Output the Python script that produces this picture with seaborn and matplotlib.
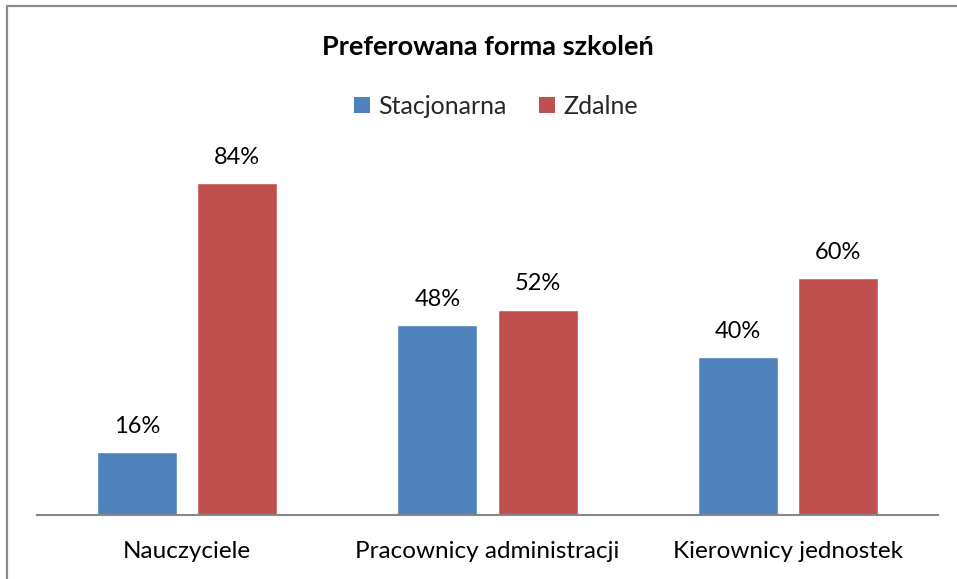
import matplotlib
matplotlib.use("Agg")
import matplotlib.pyplot as plt
import seaborn as sns
import pandas as pd
from matplotlib.lines import Line2D

categories = ["Nauczyciele", "Pracownicy administracji", "Kierownicy jednostek"]
series = ["Stacjonarna", "Zdalne"]
stacjonarna = [16, 48, 40]
zdalne = [84, 52, 60]
title = "Preferowana forma szkoleń"
colors = ["#4F81BD", "#C0504D"]

df = pd.DataFrame({
    "Grupa": categories * 2,
    "Forma": [series[0]] * 3 + [series[1]] * 3,
    "Wartość": stacjonarna + zdalne,
})

sns.set_theme(style="white")
plt.rcParams["font.family"] = ["Lato", "DejaVu Sans"]

W, H = 957, 579
fig = plt.figure(figsize=(W / 100, H / 100), dpi=100)
ax = fig.add_axes([37 / W, (H - 515) / H, (938 - 37) / W, (515 - 120) / H])

sns.barplot(data=df, x="Grupa", y="Wartość", hue="Forma", order=categories,
            hue_order=series, palette=colors, width=2 / 3, gap=0.2,
            saturation=1, ax=ax, legend=False)

for cont in ax.containers:
    ax.bar_label(cont, labels=[f"{v:.0f}%" for v in cont.datavalues],
                 padding=11, fontsize=17, color="#000000")

ax.set_ylim(0, 100)
ax.set_xlim(-0.5, 2.5)
ax.set_xlabel("")
ax.set_ylabel("")
ax.set_yticks([])
ax.tick_params(axis="x", length=0, pad=19, labelsize=17.5, labelcolor="#000000")
for s in ["top", "right", "left"]:
    ax.spines[s].set_visible(False)
ax.spines["bottom"].set_color("#868686")
ax.spines["bottom"].set_linewidth(1.5)

fig.text(488 / W, 1 - 47 / H, title, ha="center", va="center",
         fontsize=19.5, fontweight="bold", color="#000000")

handles = [plt.Rectangle((0, 0), 1, 1, facecolor=c, edgecolor="none") for c in colors]
fig.legend(handles, series, loc="center", bbox_to_anchor=(496 / W, 1 - 106 / H),
           ncol=2, frameon=False, fontsize=18, handlelength=0.62, handleheight=0.62,
           handletextpad=0.35, columnspacing=1.3)

fig.add_artist(Line2D([7.5 / W, 1.0], [1 - 5.5 / H, 1 - 5.5 / H],
                      transform=fig.transFigure, color="#898989", lw=1.6))
fig.add_artist(Line2D([7.5 / W, 7.5 / W], [0, 1 - 5.5 / H],
                      transform=fig.transFigure, color="#898989", lw=1.6))

fig.savefig("out.png", dpi=100)
